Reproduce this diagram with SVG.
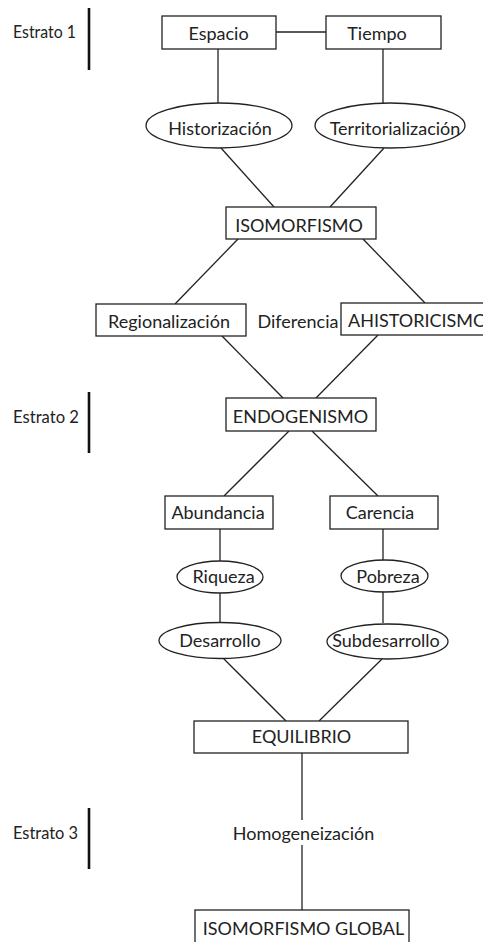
<svg xmlns="http://www.w3.org/2000/svg" width="483" height="942" viewBox="0 0 483 942">
<style>
text{font-family:Lato,"Open Sans","Liberation Sans",sans-serif;font-size:18px;fill:#222}
.c{text-anchor:middle}
.box{fill:#fff;stroke:#222;stroke-width:1.3}
.ell{fill:#fff;stroke:#222;stroke-width:1.3}
.ln{stroke:#222;stroke-width:1.3;fill:none}
.bar{stroke:#111;stroke-width:2.6}
</style>
<rect width="483" height="942" fill="#fff"/>
<g id="connectors">
<line class="ln" x1="276" y1="32" x2="326" y2="32"/>
<line class="ln" x1="218" y1="49" x2="218" y2="103"/>
<line class="ln" x1="383" y1="49" x2="383" y2="103"/>
<line class="ln" x1="221" y1="148" x2="274" y2="207"/>
<line class="ln" x1="384" y1="148" x2="330" y2="207"/>
<line class="ln" x1="238" y1="239" x2="175" y2="304"/>
<line class="ln" x1="363" y1="239" x2="425" y2="303"/>
<line class="ln" x1="222" y1="336" x2="283" y2="398"/>
<line class="ln" x1="378" y1="335" x2="316" y2="398"/>
<line class="ln" x1="289" y1="431" x2="224" y2="496"/>
<line class="ln" x1="312" y1="431" x2="378" y2="496"/>
<line class="ln" x1="220" y1="529" x2="220" y2="561"/>
<line class="ln" x1="383" y1="529" x2="383" y2="560"/>
<line class="ln" x1="220" y1="593" x2="220" y2="622"/>
<line class="ln" x1="383" y1="592" x2="383" y2="623"/>
<line class="ln" x1="223" y1="658" x2="286" y2="721"/>
<line class="ln" x1="382" y1="659" x2="319" y2="721"/>
<line class="ln" x1="302" y1="753" x2="302" y2="820"/>
<line class="ln" x1="302" y1="845" x2="302" y2="910"/>
</g>
<g id="estrato1"><text x="13" y="38" textLength="63" lengthAdjust="spacingAndGlyphs">Estrato 1</text><line class="bar" x1="89" y1="8" x2="89" y2="70"/></g>
<g id="estrato2"><text x="13" y="423" textLength="66" lengthAdjust="spacingAndGlyphs">Estrato 2</text><line class="bar" x1="89" y1="392" x2="89" y2="453"/></g>
<g id="estrato3"><text x="13" y="839" textLength="65" lengthAdjust="spacingAndGlyphs">Estrato 3</text><line class="bar" x1="89" y1="808" x2="89" y2="869"/></g>
<g id="espacio"><rect class="box" x="162" y="16" width="114" height="33"/><text class="c" x="218.5" y="39.5">Espacio</text></g>
<g id="tiempo"><rect class="box" x="326" y="16" width="115" height="33"/><text class="c" x="377" y="39.5">Tiempo</text></g>
<g id="historizacion"><ellipse class="ell" cx="219" cy="125.5" rx="73" ry="22.5"/><text class="c" x="220" y="135">Historización</text></g>
<g id="territorializacion"><ellipse class="ell" cx="390" cy="125.5" rx="75" ry="22.5"/><text class="c" x="395" y="135">Territorialización</text></g>
<g id="isomorfismo"><rect class="box" x="226" y="207" width="150" height="32"/><text class="c" x="299" y="232">ISOMORFISMO</text></g>
<g id="regionalizacion"><rect class="box" x="96" y="304" width="150" height="32"/><text class="c" x="169" y="328">Regionalización</text></g>
<g id="diferencia"><text class="c" x="298" y="328">Diferencia</text></g>
<g id="ahistoricismo"><rect class="box" x="341" y="303" width="160" height="32"/><text x="348" y="327">AHISTORICISMO</text></g>
<g id="endogenismo"><rect class="box" x="226" y="398" width="150" height="33"/><text class="c" x="300.5" y="423">ENDOGENISMO</text></g>
<g id="abundancia"><rect class="box" x="165" y="496" width="108" height="33"/><text class="c" x="218" y="519">Abundancia</text></g>
<g id="carencia"><rect class="box" x="330" y="496" width="108" height="33"/><text class="c" x="380" y="519">Carencia</text></g>
<g id="riqueza"><ellipse class="ell" cx="220" cy="577" rx="43" ry="16"/><text class="c" x="223.5" y="583">Riqueza</text></g>
<g id="pobreza"><ellipse class="ell" cx="384.5" cy="576" rx="43.5" ry="16"/><text class="c" x="388" y="583">Pobreza</text></g>
<g id="desarrollo"><ellipse class="ell" cx="220" cy="640.5" rx="61" ry="18"/><text class="c" x="220" y="647">Desarrollo</text></g>
<g id="subdesarrollo"><ellipse class="ell" cx="387.5" cy="641.5" rx="60.5" ry="17.5"/><text class="c" x="386" y="647">Subdesarrollo</text></g>
<g id="equilibrio"><rect class="box" x="194" y="721" width="214" height="32"/><text class="c" x="301.5" y="743">EQUILIBRIO</text></g>
<g id="homogeneizacion"><text class="c" x="303.5" y="840">Homogeneización</text></g>
<g id="isomorfismo-global"><rect class="box" x="195" y="910" width="214" height="40"/><text class="c" x="303.5" y="935">ISOMORFISMO GLOBAL</text></g>
</svg>
